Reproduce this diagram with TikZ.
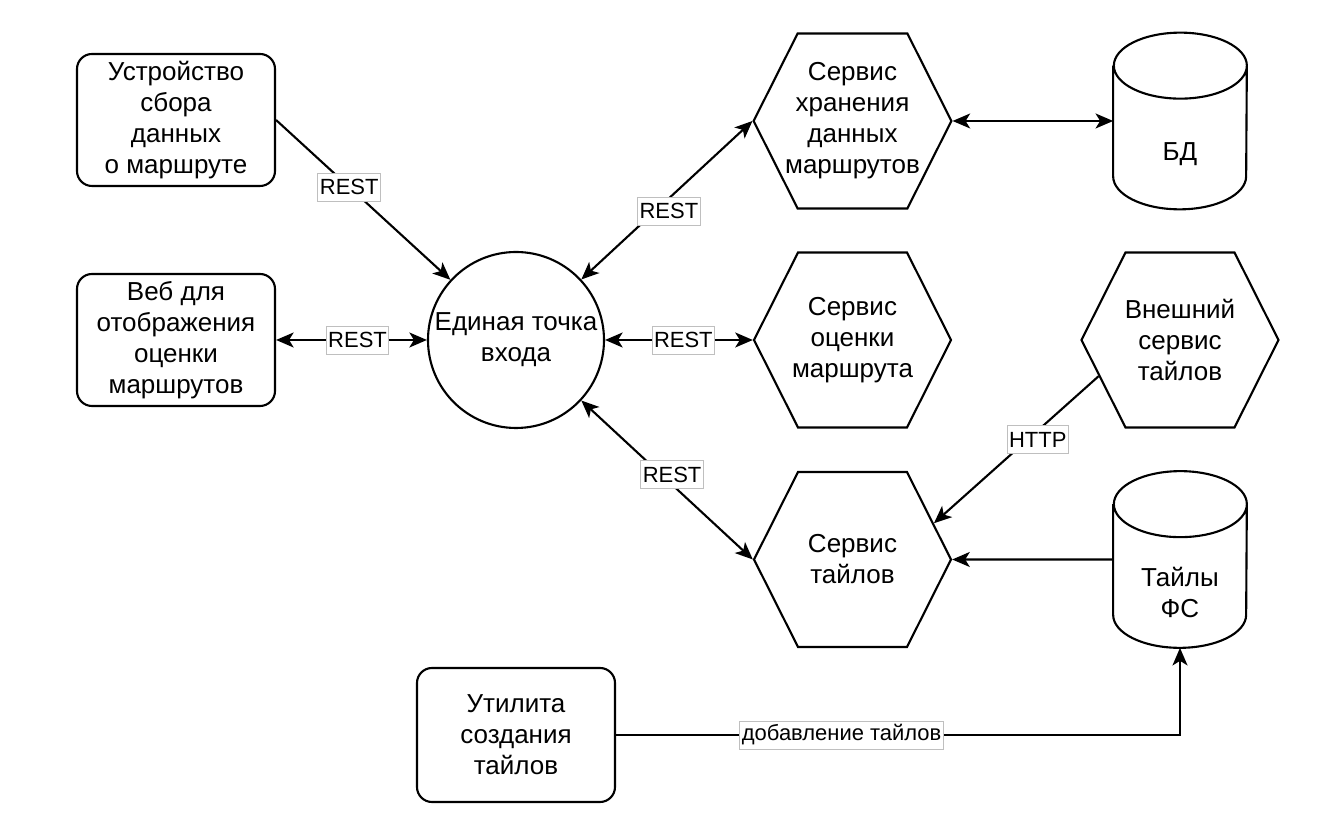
\documentclass[tikz,border=0pt]{standalone}
\usepackage{fontspec}
\setmainfont{Liberation Sans}
\usetikzlibrary{arrows.meta, shapes.symbols}
\newcommand{\nodefont}{\fontsize{14.8pt}{17.6pt}\selectfont}
\newcommand{\lblfont}{\fontsize{12.5pt}{15pt}\selectfont}
\newcommand{\drawcyl}[1]{%
	\draw[cylline] ([yshift=0.66cm]#1.north west) -- ([yshift=0.66cm]#1.south west)
		arc[start angle=180, end angle=360, x radius=1.33cm, y radius=0.66cm]
		-- ([yshift=0.66cm]#1.north east)
		arc[start angle=0, end angle=360, x radius=1.33cm, y radius=0.66cm];}
\tikzset{
	>={Stealth[length=10pt, width=8.5pt, inset=2.6pt]},
	rectnode/.style={rectangle, rounded corners=0.3cm, draw, line width=1.2pt, minimum width=3.96cm, minimum height=2.64cm, inner sep=1pt, align=center, font=\nodefont},
	roundnode/.style={circle, draw, line width=1.2pt, minimum size=3.52cm, inner sep=0pt, align=center, font=\nodefont},
	hexnode/.style={signal, signal to=east and west, signal pointer angle=126.6, draw, line width=1.2pt, minimum width=3.94cm, minimum height=3.5cm, inner xsep=-0.25cm, inner ysep=1pt, align=center, font=\nodefont},
	cylnode/.style={rectangle, minimum width=2.66cm, minimum height=2.2cm, inner sep=0pt, align=center, font=\nodefont},
	cylline/.style={line width=1.2pt},
	link/.style={line width=1.2pt},
	lbl/.style={fill=white, draw=black!25, line width=0.5pt, inner xsep=1.2pt, inner ysep=0pt, minimum height=0.56cm, font=\lblfont}
}

\begin{document}
\begin{tikzpicture}
	\useasboundingbox (0,0) rectangle (26.34,16.34);
	\node[rectnode] at (3.52,13.94) (dev) {Устройство\\сбора\\данных\\о маршруте};
	\node[rectnode] at (3.52,9.54) (web) {Веб для\\отображения\\оценки\\маршрутов};
	\node[roundnode] at (10.32,9.54) (gate) {Единая точка\\входа};
	\node[hexnode] at (17.05,13.92) (store) {Сервис\\хранения\\данных\\маршрутов};
	\node[hexnode] at (17.05,9.54) (rate) {Сервис\\оценки\\маршрута};
	\node[hexnode] at (17.05,5.15) (tiles) {Сервис\\тайлов};
	\node[hexnode] at (23.6,9.54) (ext) {Внешний\\сервис\\тайлов};
	\node[cylnode] at (23.6,13.26) (db) {БД};
	\node[cylnode] at (23.6,4.49) (fs) {Тайлы\\ФС};
	\node[rectnode, minimum height=2.68cm] at (10.32,1.64) (util) {Утилита\\создания\\тайлов};

	%Cylinders
	\drawcyl{db}
	\drawcyl{fs}

	%Lines
	\draw[->, link] (dev.east) -- node[lbl, pos=0.42] {REST} (gate);
	\draw[<->, link] (web.east) -- node[lbl, pos=0.54] {REST} (gate.west);
	\draw[<->, link] (gate) -- node[lbl, pos=0.43, xshift=0.28cm] {REST} (store.west);
	\draw[<->, link] (gate.east) -- node[lbl, pos=0.53] {REST} (rate.west);
	\draw[<->, link] (gate) -- node[lbl, pos=0.465, xshift=0.22cm] {REST} (tiles.west);
	\draw[<->, link] (store.east) -- ([yshift=0.66cm]db.west);
	\draw[->, link] (ext.204.6) -- node[lbl, pos=0.43, xshift=0.2cm] {HTTP} (tiles.24.6);
	\draw[->, link] ([yshift=0.66cm]fs.west) -- (tiles.east);
	\draw[->, link] (util.east) -| node[lbl, pos=0.2] {добавление тайлов} (fs.south);
\end{tikzpicture}
\end{document}
